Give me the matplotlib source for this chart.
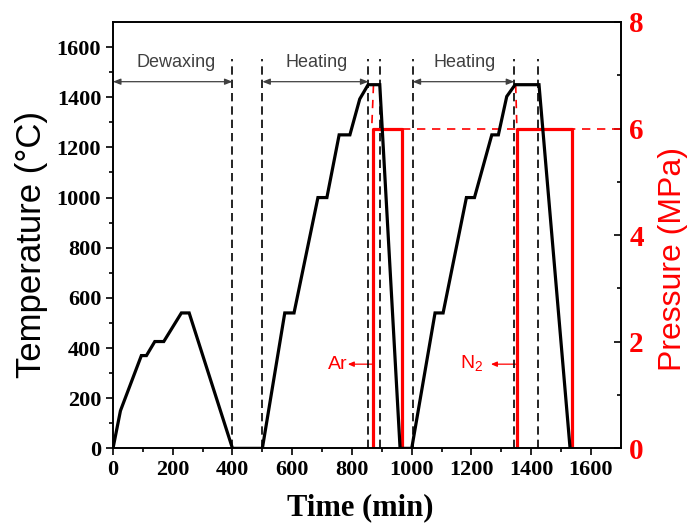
import matplotlib
matplotlib.use('Agg')
import matplotlib.pyplot as plt

plt.rcParams['mathtext.fontset'] = 'custom'
plt.rcParams['mathtext.rm'] = 'Liberation Sans'

# temperature profile (min, degC)
time_min = [0, 25, 95, 112, 140, 170, 229, 255, 400, 500, 575, 606, 686, 716,
            757, 793, 826, 854, 893, 961, 1000, 1078, 1105, 1183, 1210, 1268,
            1290, 1318, 1346, 1426, 1530]
temp_c = [0, 150, 370, 370, 426, 426, 540, 540, 0, 0, 540, 540, 1000, 1000,
          1250, 1250, 1393, 1450, 1450, 0, 0, 540, 540, 1000, 1000, 1250,
          1250, 1403, 1450, 1450, 0]

# gas pressure steps (min, MPa)
ar_time = [869, 869, 966, 966]
ar_press = [0, 6, 6, 0]
n2_time = [1351, 1351, 1538, 1538]
n2_press = [0, 6, 6, 0]

# stage boundaries (dashed)
stage_lines = [400, 500, 855, 893, 1003, 1343, 1424]
stage_top = 1553

fig = plt.figure(figsize=(6.91, 5.30), dpi=100)
ax = fig.add_axes([0.1635, 0.154, 0.735, 0.8045])
ax2 = ax.twinx()
ax.set_zorder(ax2.get_zorder() + 1)
ax.patch.set_visible(False)

# pressure
ax2.plot(ar_time, ar_press, color='red', lw=2.3)
ax2.plot(n2_time, n2_press, color='red', lw=2.3)
ax2.plot([966, 1700], [6, 6], color='red', lw=1.2, ls=(0, (5, 4)))
ax2.plot([872, 866], [6.82, 6.0], color='red', lw=1.2, ls=(0, (5, 4)))
ax2.plot([1348, 1352], [6.82, 6.0], color='red', lw=1.2, ls=(0, (5, 4)))

# temperature
ax.plot(time_min, temp_c, color='black', lw=2.3, solid_joinstyle='miter')
for t in stage_lines:
    ax.plot([t, t], [0, stage_top], color='black', lw=1.2, ls=(0, (5, 3)))

arr = dict(arrowstyle='<|-|>,head_length=0.45,head_width=0.18', color='#404040', lw=0.9,
           shrinkA=0, shrinkB=0)
ax.annotate('', xy=(0, 1462), xytext=(400, 1462), arrowprops=arr)
ax.annotate('', xy=(500, 1462), xytext=(855, 1462), arrowprops=arr)
ax.annotate('', xy=(1003, 1462), xytext=(1343, 1462), arrowprops=arr)
lab = dict(fontsize=13, color='#404040', family='Liberation Sans', ha='center', va='center')
ax.text(210, 1540, 'Dewaxing', **lab)
ax.text(680, 1540, 'Heating', **lab)
ax.text(1178, 1540, 'Heating', **lab)

# gas labels
gas_arr = dict(arrowstyle='-|>,head_length=0.35,head_width=0.15',
               color='red', lw=0.9, shrinkA=0, shrinkB=0)
ax2.annotate('', xy=(786, 1.58), xytext=(869, 1.58), arrowprops=gas_arr)
ax2.text(784, 1.58, 'Ar', color='red', fontsize=14, family='Liberation Sans',
         ha='right', va='center')
ax2.annotate('', xy=(1265, 1.58), xytext=(1351, 1.58), arrowprops=gas_arr)
ax2.text(1240, 1.58, r'N$_\mathregular{2}$', color='red', fontsize=14,
         family='Liberation Sans', ha='right', va='center')

ax.set_xlim(0, 1700)
ax.set_ylim(0, 1700)
ax2.set_ylim(0, 8)

ax.set_xticks(range(0, 1601, 200))
ax.set_xticks(range(100, 1700, 200), minor=True)
ax.set_yticks(range(0, 1601, 200))
ax.set_yticks(range(100, 1700, 200), minor=True)
ax2.set_yticks([0, 2, 4, 6, 8])
ax2.set_yticks([1, 3, 5, 7], minor=True)

ax.tick_params(which='major', direction='out', length=5, width=1.2)
ax.tick_params(which='minor', direction='out', length=3, width=1.2)
ax.tick_params(axis='x', which='both', top=False)
ax2.tick_params(which='major', direction='in', length=5, width=1.2, pad=6)
ax2.tick_params(which='minor', direction='in', length=3, width=1.2)
for lbl in ax.get_xticklabels() + ax.get_yticklabels():
    lbl.set_fontfamily('Liberation Serif')
    lbl.set_fontweight('bold')
    lbl.set_fontsize(16)
for lbl in ax2.get_yticklabels():
    lbl.set_fontfamily('Liberation Serif')
    lbl.set_fontweight('bold')
    lbl.set_fontsize(21)
    lbl.set_color('red')

for sp in ax.spines.values():
    sp.set_linewidth(1.2)
for sp in ax2.spines.values():
    sp.set_linewidth(1.2)

ax.set_xlabel('Time (min)', fontsize=22, fontweight='bold', family='Liberation Serif')
ax.xaxis.set_label_coords(0.486, -0.105)
ax.set_ylabel('Temperature (\u00b0C)', fontsize=25, family='Liberation Sans')
ax.yaxis.set_label_coords(-0.128, 0.478)
ax2.set_ylabel('Pressure (MPa)', fontsize=23, family='Liberation Sans', color='red',
               rotation=90)
ax2.yaxis.set_label_coords(1.073, 0.445)

fig.savefig('out.png', dpi=100)
